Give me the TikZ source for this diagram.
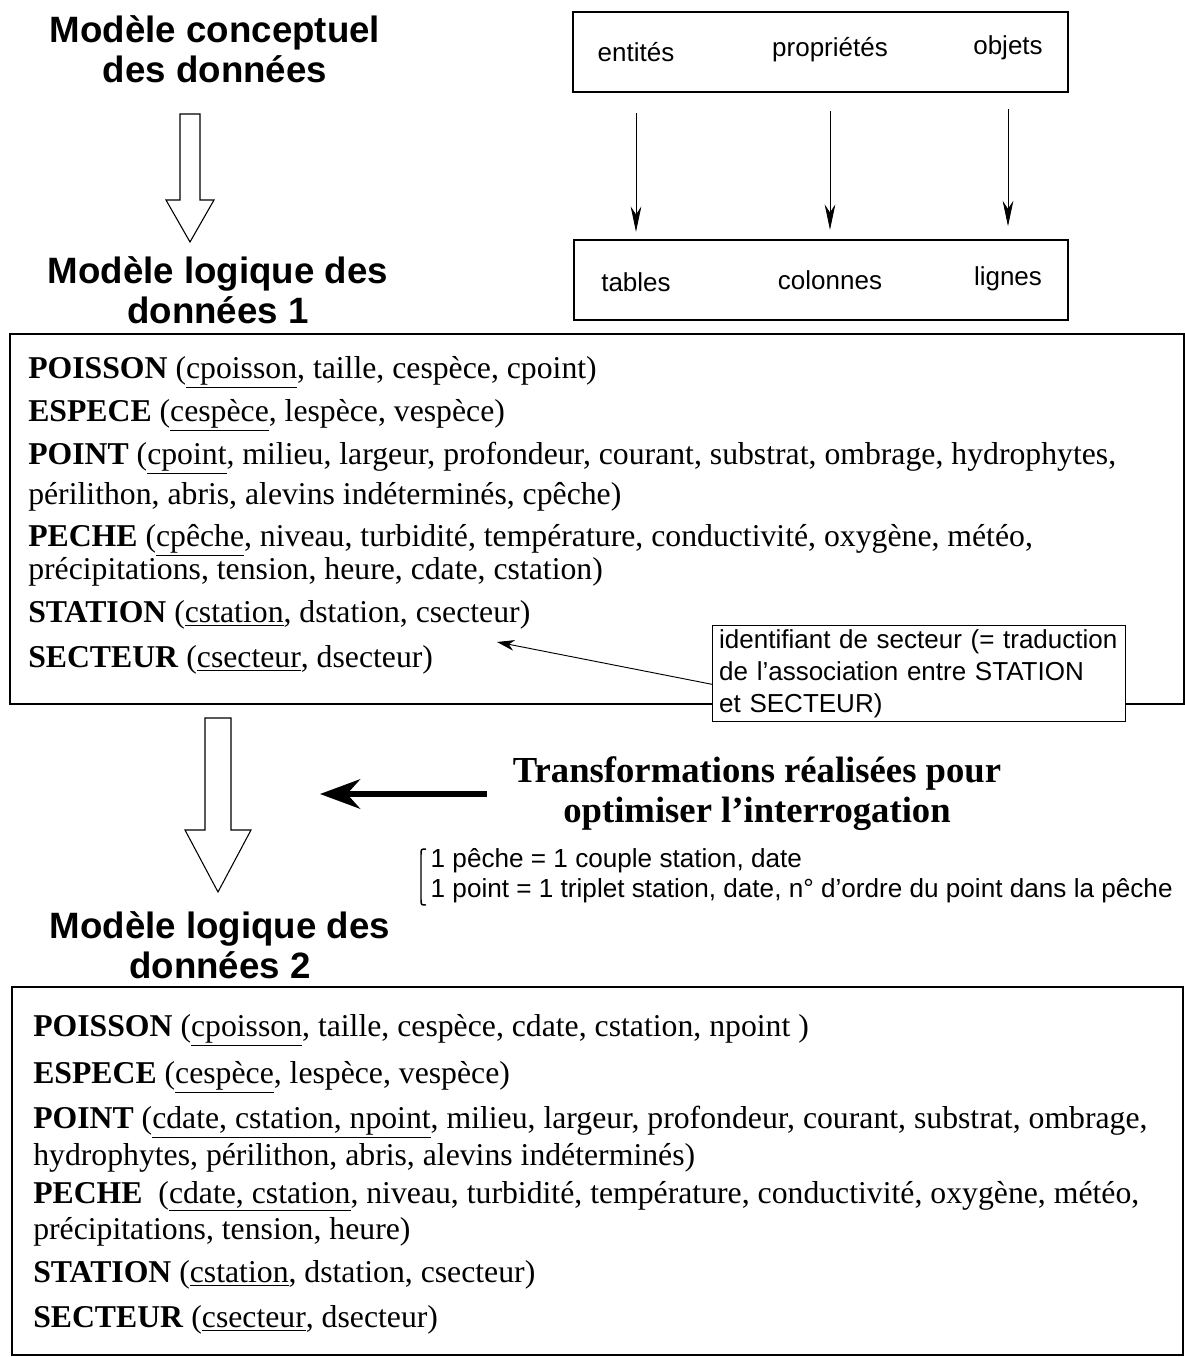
\documentclass[tikz,border=0pt]{standalone}
\usepackage{fontspec}
\setmainfont{Liberation Serif}
\setsansfont{Liberation Sans}
\usetikzlibrary{arrows.meta}

\begin{document}
\begin{tikzpicture}[x=0.75pt, y=-0.75pt,
    titre/.style={font=\sffamily\bfseries\fontsize{27.5}{30}\selectfont, align=center},
    mot/.style={font=\sffamily\fontsize{19.5}{24}\selectfont},
    ligne/.style={anchor=west, inner sep=0pt, font=\fontsize{23.8}{26}\selectfont},
    cadre/.style={draw, line width=1.2pt},
    creux/.style={draw, line width=0.8pt, fill=white},
    fleche/.style={-{Stealth[length=19pt, width=8pt, inset=6pt]}, line width=0.6pt}]
\useasboundingbox (0,0) rectangle (1185,1357);

\node [titre] (mcd) at (215,49) {Modèle conceptuel\\des données};
\node [titre] (mld1) at (218,290) {Modèle logique des\\données 1};
\node [titre] (mld2) at (220,945) {Modèle logique des\\données 2};

\draw [creux] (180,114) -- (200,114) -- (200,200) -- (214,200) -- (190,242) -- (166,200) -- (180,200) -- cycle;
\draw [creux] (205,718) -- (231,718) -- (231,830) -- (251,830) -- (218,892) -- (185,830) -- (205,830) -- cycle;

\draw [cadre] (573,12) rectangle (1068,92);
\draw [cadre] (574,240) rectangle (1068,320);
\node [mot] (ent) at (636,52) {entités};
\node [mot] (pro) at (830,50) {propriétés};
\node [mot] (obj) at (1008,48) {objets};
\node [mot] (tab) at (636,282) {tables};
\node [mot] (col) at (830,280) {colonnes};
\node [mot] (lig) at (1008,279) {lignes};
\draw [fleche, shorten <=35pt, shorten >=27pt] (ent.south) -- (tab.north);
\draw [fleche, shorten <=33pt, shorten >=27pt] (pro.south) -- (col.north);
\draw [fleche, shorten <=33pt, shorten >=27pt] (obj.south) -- (lig.north);

\draw [cadre] (10,334) rectangle (1184,704);
\node [ligne] (a1) at (28,372) {\textbf{POISSON} (\underline{cpoisson}, taille, cespèce, cpoint)};
\node [ligne] (a2) at (28,415) {\textbf{ESPECE} (\underline{cespèce}, lespèce, vespèce)};
\node [ligne] (a3) at (28,458) {\textbf{POINT} (\underline{cpoint}, milieu, largeur, profondeur, courant, substrat, ombrage, hydrophytes,};
\node [ligne] (a4) at (28,497) {périlithon, abris, alevins indéterminés, cpêche)};
\node [ligne] (a5) at (28,540) {\textbf{PECHE} (\underline{cpêche}, niveau, turbidité, température, conductivité, oxygène, météo,};
\node [ligne] (a6) at (28,572) {précipitations, tension, heure, cdate, cstation)};
\node [ligne] (a7) at (28,615) {\textbf{STATION} (\underline{cstation}, dstation, csecteur)};
\node [ligne] (a8) at (28,660) {\textbf{SECTEUR} (\underline{csecteur}, dsecteur)};

\node [mot, draw, fill=white, line width=0.8pt, anchor=north west, align=left, inner xsep=5pt, inner ysep=3pt, minimum height=72pt, text width=300pt] (note) at (712,625) {identifiant de secteur (= traduction\\de l'association entre STATION\\et SECTEUR)};
\coordinate (cible) at (497,642);
\draw [-{Stealth[length=13pt, width=8pt, inset=4pt]}, line width=0.7pt] ([yshift=-8pt]note.west) -- (cible);

\node [font=\bfseries\fontsize{27.5}{30}\selectfont, align=center] (trans) at (757,794) {Transformations réalisées pour\\optimiser l'interrogation};
\coordinate (pointe) at (320,794);
\draw [line width=4.5pt, shorten <=16pt, -{Stealth[length=30pt, width=22pt]}] (trans.west) -- (pointe);

\draw [line width=1.1pt] (426,849) .. controls (421,849) .. (421,855) -- (421,899) .. controls (421,905) .. (426,905);
\node [mot, anchor=west, font=\sffamily\fontsize{19.6}{24}\selectfont] (peche) at (426,861) {1 pêche = 1 couple station, date};
\node [mot, anchor=west, font=\sffamily\fontsize{19.6}{24}\selectfont] (triplet) at (426,891) {1 point = 1 triplet station, date, n° d'ordre du point dans la pêche};

\draw [cadre] (12,987) rectangle (1183,1355);
\node [ligne] (b1) at (33,1030) {\textbf{POISSON} (\underline{cpoisson}, taille, cespèce, cdate, cstation, npoint )};
\node [ligne] (b2) at (33,1077) {\textbf{ESPECE} (\underline{cespèce}, lespèce, vespèce)};
\node [ligne] (b3) at (33,1122) {\textbf{POINT} (\underline{cdate, cstation, npoint}, milieu, largeur, profondeur, courant, substrat, ombrage,};
\node [ligne] (b4) at (33,1158) {hydrophytes, périlithon, abris, alevins indéterminés)};
\node [ligne] (b5) at (33,1196) {\textbf{PECHE}\ \ (\underline{cdate, cstation}, niveau, turbidité, température, conductivité, oxygène, météo,};
\node [ligne] (b6) at (33,1232) {précipitations, tension, heure)};
\node [ligne] (b7) at (33,1275) {\textbf{STATION} (\underline{cstation}, dstation, csecteur)};
\node [ligne] (b8) at (33,1320) {\textbf{SECTEUR} (\underline{csecteur}, dsecteur)};
\end{tikzpicture}
\end{document}
